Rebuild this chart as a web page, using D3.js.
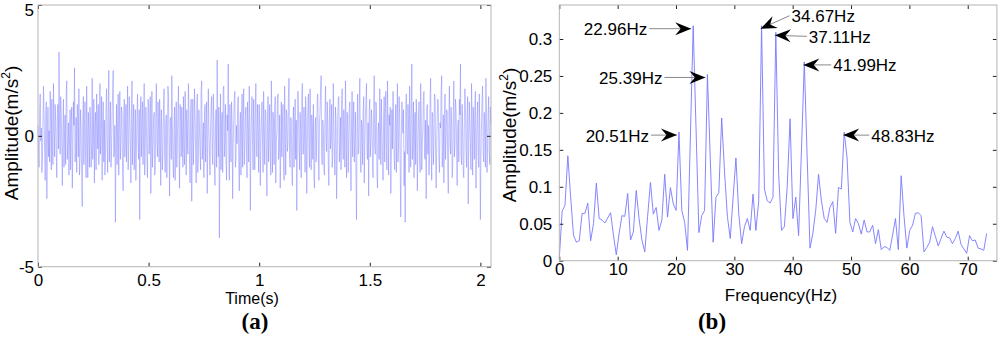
<!DOCTYPE html>
<html>
<head>
<meta charset="utf-8">
<script src="https://cdn.jsdelivr.net/npm/d3@7"></script>
<style>
  body { margin: 0; background: #fff; }
  svg { display: block; font-family: "Liberation Sans", Arial, sans-serif; }
</style>
</head>
<body>
<svg id="chart" width="1000" height="346"></svg>
<script>
const timeStep = 0.0025;
const timeValues = [
  0.4, -0.6, -1.2, 0.9, 1.6, -0.2, 0.3, -1.4, -0.9, 0.5, 1.9, 0.7, -0.5, -1.7, 0.8, 1.3, -2.4, -0.3, 1.1, -0.8,
  0.2, -1.0, 1.7, 0.6, -1.3, 1.4, -0.4, -1.1, 2.0, 0.3, -0.8, 1.2, 0.6, -0.7, -1.6, 0.9, 1.2, -0.5, 3.2, 0.4,
  -0.7, 1.5, 0.9, -0.4, -1.9, 0.2, 1.4, -1.2, 0.1, 0.8, -1.1, 1.6, 2.1, -0.9, -0.3, 0.5, -1.5, -0.2, 1.0, -1.3,
  0.5, 1.1, -2.0, -0.6, 1.3, 0.4, 2.6, -1.0, -0.6, 0.7, -1.4, 1.2, 0.7, -0.8, 1.8, -1.5, -0.9, 1.0, 0.2, -1.6,
  -2.7, 0.6, 1.5, -1.1, 0.4, 1.3, -0.8, -1.6, 1.9, 0.2, -1.6, 0.9, 0.3, -1.2, 1.1, 0.5, -1.2, -0.4, 2.2, -0.9,
  -0.2, 1.4, -1.8, 0.4, 0.9, -1.3, 1.6, 0.7, -0.5, 1.2, -1.1, -0.3, 2.0, -0.7, 0.1, 1.5, -1.7, 0.6, 1.3, -1.0,
  0.6, -1.5, -0.9, 1.1, 1.8, -0.2, -1.4, 0.9, 2.5, -1.0, 0.2, 1.3, -1.2, -0.6, 0.8, 1.7, 2.5, -0.8, -0.7, 0.4,
  -3.3, -0.5, 1.2, -1.1, 0.5, 1.6, -1.5, 0.3, 1.7, -0.9, -0.3, 1.1, 0.9, -1.4, -2.1, 0.6, 1.4, -0.8, 0.0, 1.2,
  -1.0, 0.4, 1.9, -1.3, -0.6, 1.5, 0.7, -0.2, -1.8, 0.9, 2.1, -1.1, 0.3, 1.2, -1.3, -0.5, 1.0, -1.7, -0.4, 0.8,
  1.6, -0.3, -0.9, 1.0, -3.2, 0.7, 1.5, -0.8, 0.6, 1.3, -1.1, 0.2, 2.0, -1.5, -0.5, 1.1, 0.4, -0.9, -1.6, 1.4,
  1.2, -0.7, 0.2, 1.5, -2.2, -0.4, 1.7, -1.2, -0.4, 0.6, 0.9, -1.5, -1.3, 0.8, 2.0, -0.2, -0.8, 1.3, 0.5, -1.0,
  1.4, 0.3, -1.9, 1.0, 0.3, -1.3, -0.6, 1.2, 1.8, -0.7, -1.4, 0.5, 0.8, -1.6, -0.2, 1.9, 1.5, -0.4, -2.3, 0.6,
  0.7, -0.9, 2.3, 0.5, -1.0, -1.6, 0.4, 1.1, -1.7, 0.2, 1.3, -1.2, -0.3, 0.9, 1.9, -0.6, -2.0, 1.2, 0.6, -0.8,
  1.1, 0.3, -1.2, 1.5, -0.5, -1.1, 1.7, 0.6, -1.5, 1.0, 0.2, -0.7, 2.0, 1.0, -0.9, -1.8, 0.8, 1.4, -2.5, -0.4,
  1.4, -1.1, -0.1, 1.8, 0.9, -0.5, -1.8, 0.7, 1.6, -1.4, -0.7, 1.0, 0.3, -0.6, -1.3, 1.7, 2.1, -0.9, -0.4, 0.5,
  -1.6, 0.8, 1.2, -1.0, 0.5, 1.3, -2.2, -0.4, 1.8, 0.4, -0.6, -1.5, 0.1, 1.1, 1.5, -0.7, -1.1, 1.6, 0.7, -0.9,
  -1.9, 0.3, 1.0, -1.2, 2.9, 0.6, -0.8, 1.1, -3.9, -0.7, 1.6, -1.3, 0.4, 0.9, -1.4, 1.8, 1.9, -0.8, -0.2, 1.2,
  -1.0, -1.7, 0.8, 0.2, 2.75, -0.6, -1.7, 1.2, 0.3, -1.0, 1.3, 0.5, -2.4, -0.3, 0.6, 1.4, 1.7, -1.2, -0.9, 0.4,
  -0.3, 1.0, 1.5, -0.9, -2.1, 0.3, 0.9, -1.5, 0.2, 1.6, -1.2, 0.5, 1.8, -1.1, -0.5, 0.7, 1.1, -0.4, -1.6, 1.3,
  0.4, -1.0, 1.9, 0.6, -2.85, -0.2, 0.7, 1.5, -0.4, -1.3, 1.4, 0.2, -1.3, 1.1, 2.0, -0.6, -0.8, 1.2, 0.3, -1.4,
  1.2, 0.5, -1.9, -0.3, 0.6, 1.3, -0.2, -1.4, 1.7, 0.2, -1.1, 1.0, 0.9, -0.8, -2.3, 0.7, 1.5, -1.0, 0.1, 1.2,
  -0.7, -1.5, 2.1, 0.4, -1.4, 0.9, 0.5, -1.1, 1.0, 1.5, -1.8, -0.2, 0.2, 1.3, 1.6, -0.9, -0.6, 0.8, -2.0, -0.5,
  1.3, -0.8, 0.4, 1.2, -1.0, -1.7, 1.9, 0.3, -1.5, 1.0, 0.8, -0.6, -0.3, 1.6, 2.2, -0.9, -1.2, 0.7, 0.6, -1.3,
  -1.9, 0.5, 1.1, -1.2, 0.3, 1.4, -0.9, 0.6, -2.85, -0.4, 1.7, 1.0, -0.4, -1.3, 0.9, 0.2, -1.6, 1.3, 2.0, -0.7,
  -0.7, 1.1, 0.2, -1.4, 1.5, 0.6, -2.2, -0.3, 1.0, 1.6, -0.5, -1.2, 1.8, 0.4, -1.3, 0.8, 0.4, -0.9, 1.2, -1.6,
  -2.0, 0.3, 0.7, -1.0, -0.1, 1.4, 1.6, -0.6, -1.7, 0.5, 0.9, 1.7, 2.3, -0.8, -1.1, 0.6, 0.3, -1.3, -1.5, 1.0,
  1.9, -0.2, -0.6, 1.3, 0.5, -1.1, -1.9, 0.8, 1.4, -0.5, 0.0, 1.2, -1.2, -0.7, 2.0, 0.4, -0.8, -1.5, 1.1, 0.6,
  -2.4, -0.9, 0.6, 1.4, 1.5, -1.0, -0.4, 0.7, -1.3, 1.1, 1.8, -0.3, -0.9, 1.0, 0.2, -1.2, 2.1, 0.5, -1.6, 0.9,
  0.8, -1.4, -0.3, 1.1, 1.3, -0.6, -2.1, 0.4, 1.7, -0.8, 0.4, 1.3, -1.0, -0.2, 0.9, -1.5, -3.2, 0.3, 1.6, -0.7,
  -0.5, 1.2, 2.2, -0.9, -1.4, 0.6, 0.3, -1.1, 1.0, 1.5, -1.8, -0.4, 0.7, 1.3, 2.0, -0.6, -0.9, 0.5, -2.3, 1.0,
  1.4, -0.8, -0.2, 1.0, 0.6, -1.2, -1.6, 0.9, 2.3, -0.4, -0.7, 1.3, 1.1, -1.5, -2.0, 0.2, 0.5, -0.9, 1.8, 0.7,
  -1.1, 1.4, 0.2, -0.8, -1.7, 0.6, 1.5, -1.0, 0.9, 1.7, -0.6, -1.3, 2.1, 0.3, -1.5, 0.8, 0.4, 1.1, -2.2, -0.6,
  1.0, -0.5, 1.7, 0.6, -0.8, -1.3, 0.3, 1.2, -1.4, 0.4, 2.0, -1.0, -0.4, 1.5, 0.8, -1.2, -3.1, -0.2, 1.3, 0.7,
  0.1, 1.0, -1.9, -0.6, -3.3, 0.9, 1.6, -0.4, -0.7, 1.2, 0.5, -1.4, 1.9, 0.3, -1.2, 1.1, 2.75, -0.9, -0.3, 1.3,
  -1.6, 0.4, 0.9, -1.1, 1.4, 0.7, -2.1, -0.5, 0.6, 1.3, -0.5, -1.4, 2.0, 0.8, -1.3, -0.2, 0.2, 1.5, 1.7, -0.8,
  -0.9, 0.6, -2.4, 1.0, 1.2, -0.7, 0.4, -1.5, -1.0, 1.3, 2.2, -0.4, -1.7, 0.9, 0.7, -1.1, -0.2, 1.6, 1.5, -0.6,
  -2.0, -0.4, 0.8, 1.4, 1.1, -0.9, -1.4, 0.5, 0.3, 1.7, 2.3, -1.2, -0.6, 0.8, -1.8, 0.3, 1.6, -0.9, -0.1, 1.0,
  0.9, -1.3, -2.2, 0.6, 1.9, -0.2, -0.7, 1.1, 0.5, -1.6, -1.2, 0.9, 2.1, -0.8, -0.4, 1.4, 1.0, -0.5, -1.9, 0.3,
  0.6, -1.0, 1.4, 0.8, 2.75, -0.7, -1.1, 1.2, 0.2, -1.4, -1.6, 0.6, 1.8, 1.0, -0.5, -1.2, 0.9, 1.5, -2.6, -0.3,
  1.3, 0.4, -0.3, -1.3, 2.0, 0.6, -1.5, 1.1, 0.4, -0.9, 1.2, 1.7, -2.0, -0.6, 0.7, 1.3, -0.8, -1.2, 1.6, 0.2,
  -3.2, -0.8, 0.5, 1.4, 1.9, -0.6, -1.0, 0.9, 0.3, -1.2, 2.2, 0.7, -1.4, -0.4, 0.8, 1.5, -0.6, -1.1, 1.1, 0.5
];

// amplitude spectrum, one value per 1000/2048 Hz bin
const freqStep = 1000 / 2048;
const spectrumValues = [
  0.003, 0.067, 0.075, 0.142, 0.085, 0.034, 0.025, 0.027, 0.064, 0.064,
  0.078, 0.027, 0.050, 0.105, 0.057, 0.055, 0.051, 0.058, 0.065, 0.035,
  0.008, 0.037, 0.061, 0.060, 0.091, 0.028, 0.039, 0.095, 0.057, 0.028,
  0.012, 0.060, 0.106, 0.063, 0.072, 0.041, 0.055, 0.117, 0.059, 0.099,
  0.077, 0.068, 0.174, 0.068, 0.052, 0.014, 0.166, 0.318, 0.178, 0.038,
  0.061, 0.068, 0.252, 0.138, 0.025, 0.086, 0.092, 0.193, 0.120, 0.060,
  0.030, 0.085, 0.139, 0.063, 0.023, 0.046, 0.057, 0.041, 0.090, 0.041,
  0.081, 0.318, 0.097, 0.081, 0.078, 0.086, 0.309, 0.117, 0.041, 0.046,
  0.100, 0.192, 0.057, 0.086, 0.034, 0.150, 0.269, 0.140, 0.017, 0.037,
  0.068, 0.117, 0.081, 0.057, 0.052, 0.072, 0.080, 0.037, 0.099, 0.097,
  0.174, 0.140, 0.052, 0.039, 0.057, 0.050, 0.036, 0.055, 0.039, 0.039,
  0.048, 0.023, 0.042, 0.015, 0.019, 0.018, 0.014, 0.035, 0.057, 0.015,
  0.115, 0.060, 0.017, 0.041, 0.048, 0.064, 0.065, 0.061, 0.012, 0.018,
  0.025, 0.046, 0.033, 0.020, 0.030, 0.040, 0.032, 0.031, 0.023, 0.030,
  0.040, 0.022, 0.016, 0.010, 0.034, 0.027, 0.028, 0.017, 0.016, 0.014,
  0.037
];

const timeTicksX = [0, 0.5, 1, 1.5, 2];
const timeTicksY = [-5, 0, 5];
const freqTicksX = [0, 10, 20, 30, 40, 50, 60, 70];
const freqTicksY = [0, 0.05, 0.1, 0.15, 0.2, 0.25, 0.3];
const peakFreqs = [20.51, 22.96, 25.39, 34.67, 37.11, 41.99, 48.83];
const peakLabels = ["20.51Hz", "22.96Hz", "25.39Hz", "34.67Hz", "37.11Hz", "41.99Hz", "48.83Hz"];

const svg = d3.select("#chart");
const lineColor = "#7878ff";
const boxColor = "#b4b4b4";

function drawFrame(g, x, y, opts) {
  const [x0, x1] = x.range();
  const [y0, y1] = y.range();
  const fmt = (d) => String(d);

  const bottom = g.append("g").attr("transform", `translate(0,${y0})`)
    .call(d3.axisBottom(x).tickValues(opts.xTicks).tickSizeInner(-4).tickSizeOuter(0)
      .tickPadding(opts.xPad).tickFormat(fmt));
  const top = g.append("g").attr("transform", `translate(0,${y1})`)
    .call(d3.axisTop(x).tickValues(opts.xTicks).tickSizeInner(-4).tickSizeOuter(0).tickFormat(""));
  const left = g.append("g").attr("transform", `translate(${x0},0)`)
    .call(d3.axisLeft(y).tickValues(opts.yTicks).tickSizeInner(-4).tickSizeOuter(0)
      .tickPadding(opts.yPad).tickFormat(fmt));
  const right = g.append("g").attr("transform", `translate(${x1},0)`)
    .call(d3.axisRight(y).tickValues(opts.yTicks).tickSizeInner(-4).tickSizeOuter(0).tickFormat(""));

  [bottom, top, left, right].forEach((a) => {
    a.select(".domain").remove();
    a.selectAll("line").attr("stroke", "#222").attr("stroke-width", 1);
    a.selectAll("text").attr("fill", "#000").attr("font-size", 17)
      .attr("font-family", "Liberation Sans, Arial, sans-serif");
  });
  // the top label would leave the page: nudge it down like the original does
  left.selectAll(".tick text").filter((d) => y(d) - y1 < 6).attr("dy", "0.62em");

  g.append("rect")
    .attr("x", x0).attr("y", y1)
    .attr("width", x1 - x0).attr("height", y0 - y1)
    .attr("fill", "none").attr("stroke", boxColor).attr("stroke-width", 1);
}

function yTitle(g, cx, cy) {
  const t = g.append("text")
    .attr("transform", `translate(${cx},${cy}) rotate(-90)`)
    .attr("text-anchor", "middle").attr("font-size", 19).attr("fill", "#000");
  t.append("tspan").text("Amplitude(m/s");
  t.append("tspan").attr("font-size", 12).attr("dy", -8).text("2");
  t.append("tspan").attr("dy", 8).text(")");
}

// ---- panel (a): time signal
const xa = d3.scaleLinear().domain([0, 2.048]).range([38, 491]);
const ya = d3.scaleLinear().domain([-5, 5]).range([266.7, 5]);
const ga = svg.append("g");

ga.append("path")
  .datum(timeValues)
  .attr("fill", "none")
  .attr("stroke", lineColor)
  .attr("stroke-width", 0.7)
  .attr("stroke-opacity", 0.65)
  .attr("stroke-linejoin", "bevel")
  .attr("d", d3.line().x((d, i) => xa(i * timeStep)).y((d) => ya(d)));

drawFrame(ga, xa, ya, { xTicks: timeTicksX, yTicks: timeTicksY, xPad: 7, yPad: 4 });
yTitle(ga, 18, 133);
ga.append("text").attr("x", 252).attr("y", 304).attr("text-anchor", "middle")
  .attr("font-size", 16).text("Time(s)");
ga.append("text").attr("x", 255).attr("y", 329).attr("text-anchor", "middle")
  .attr("font-family", "Liberation Serif, Times New Roman, serif")
  .attr("font-weight", "bold").attr("font-size", 23).text("(a)");

// ---- panel (b): spectrum
const xb = d3.scaleLinear().domain([0, 75]).range([559.3, 996.9]);
const yb = d3.scaleLinear().domain([0, 0.346]).range([260.7, 5]);
const gb = svg.append("g");

gb.append("path")
  .datum(spectrumValues)
  .attr("fill", "none")
  .attr("stroke", lineColor)
  .attr("stroke-width", 0.9)
  .attr("d", d3.line().x((d, i) => xb(i * freqStep)).y((d) => yb(d)));

drawFrame(gb, xb, yb, { xTicks: freqTicksX, yTicks: freqTicksY, xPad: 2, yPad: 7 });
yTitle(gb, 516, 135);
gb.append("text").attr("x", 781).attr("y", 301).attr("text-anchor", "middle")
  .attr("font-size", 17).text("Frequency(Hz)");
gb.append("text").attr("x", 712).attr("y", 329).attr("text-anchor", "middle")
  .attr("font-family", "Liberation Serif, Times New Roman, serif")
  .attr("font-weight", "bold").attr("font-size", 23).text("(b)");

// peak arrows: where the tail sits relative to the arrow tip
const arrowTails = [[-26, 0], [-42, 0], [-41, 0], [29, -13], [32, 1], [28, 0], [26, 0]];
const head = "M0,0 L-16,-6.5 L-10.5,0 L-16,6.5 Z";
const ann = gb.append("g");

peakFreqs.forEach((f, i) => {
  const k = Math.round(f / freqStep);
  const [tx, ty] = arrowTails[i];
  const tip = [xb(k * freqStep) + (tx < 0 ? -2 : -1), yb(spectrumValues[k]) + 3];
  const tail = [tip[0] + tx, tip[1] + ty];
  const angle = Math.atan2(tip[1] - tail[1], tip[0] - tail[0]) * 180 / Math.PI;
  ann.append("line")
    .attr("x1", tail[0]).attr("y1", tail[1]).attr("x2", tip[0]).attr("y2", tip[1])
    .attr("stroke", "#8a8a8a").attr("stroke-width", 1);
  ann.append("path")
    .attr("d", head).attr("fill", "#000")
    .attr("transform", `translate(${tip[0]},${tip[1]}) rotate(${angle})`);
  ann.append("text")
    .attr("x", tx < 0 ? tail[0] - 2 : tail[0] + 2)
    .attr("y", tail[1] + 6.5)
    .attr("text-anchor", tx < 0 ? "end" : "start")
    .attr("font-size", 17).attr("fill", "#000")
    .text(peakLabels[i]);
});
</script>
</body>
</html>
